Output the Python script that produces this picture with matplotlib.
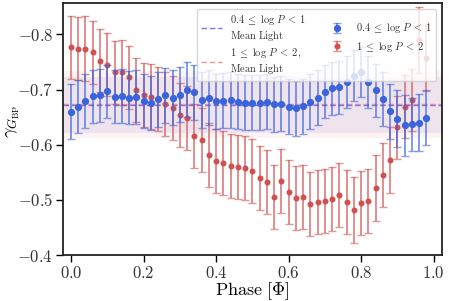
import matplotlib
matplotlib.use("Agg")
import matplotlib.pyplot as plt
from matplotlib.ticker import FuncFormatter, MultipleLocator
import numpy as np

plt.rcParams['mathtext.fontset'] = 'cm'
plt.rcParams['font.family'] = ['DejaVu Serif']

phase = [0.00, 0.02, 0.04, 0.06, 0.08, 0.10, 0.12, 0.14, 0.16, 0.18,
         0.20, 0.22, 0.24, 0.26, 0.28, 0.30, 0.32, 0.34, 0.36, 0.38,
         0.40, 0.42, 0.44, 0.46, 0.48, 0.50, 0.52, 0.54, 0.56, 0.58,
         0.60, 0.62, 0.64, 0.66, 0.68, 0.70, 0.72, 0.74, 0.76, 0.78,
         0.80, 0.82, 0.84, 0.86, 0.88, 0.90, 0.92, 0.94, 0.96, 0.98]

gamma_short = [-0.660, -0.669, -0.679, -0.688, -0.690, -0.697, -0.687, -0.689, -0.685, -0.687,
               -0.679, -0.675, -0.682, -0.690, -0.685, -0.691, -0.700, -0.695, -0.681, -0.685,
               -0.679, -0.680, -0.681, -0.678, -0.676, -0.676, -0.676, -0.678, -0.673, -0.674,
               -0.669, -0.666, -0.670, -0.678, -0.685, -0.696, -0.702, -0.704, -0.714, -0.725,
               -0.732, -0.714, -0.699, -0.683, -0.661, -0.647, -0.635, -0.637, -0.640, -0.649]
err_short = [0.050, 0.048, 0.049, 0.048, 0.048, 0.048, 0.048, 0.049, 0.048, 0.049,
             0.049, 0.049, 0.049, 0.050, 0.050, 0.050, 0.050, 0.050, 0.050, 0.050,
             0.050, 0.050, 0.050, 0.050, 0.050, 0.050, 0.050, 0.050, 0.050, 0.050,
             0.050, 0.050, 0.050, 0.050, 0.050, 0.048, 0.048, 0.048, 0.047, 0.046,
             0.046, 0.047, 0.048, 0.049, 0.050, 0.052, 0.056, 0.048, 0.052, 0.050]

gamma_long = [-0.777, -0.774, -0.774, -0.768, -0.752, -0.745, -0.731, -0.731, -0.722, -0.699,
              -0.690, -0.687, -0.683, -0.674, -0.666, -0.654, -0.648, -0.616, -0.608, -0.582,
              -0.571, -0.567, -0.562, -0.560, -0.557, -0.552, -0.539, -0.533, -0.506, -0.535,
              -0.514, -0.504, -0.506, -0.493, -0.496, -0.498, -0.502, -0.508, -0.496, -0.482,
              -0.495, -0.498, -0.522, -0.545, -0.573, -0.632, -0.669, -0.681, -0.790, -0.757]
err_long = [0.057, 0.057, 0.059, 0.057, 0.057, 0.057, 0.057, 0.059, 0.057, 0.058,
            0.058, 0.059, 0.058, 0.058, 0.058, 0.058, 0.058, 0.058, 0.058, 0.058,
            0.058, 0.058, 0.058, 0.058, 0.058, 0.058, 0.058, 0.058, 0.058, 0.058,
            0.058, 0.058, 0.058, 0.058, 0.058, 0.058, 0.058, 0.058, 0.058, 0.060,
            0.058, 0.058, 0.060, 0.058, 0.060, 0.057, 0.057, 0.057, 0.060, 0.060]

mean_short, std_short = -0.672, 0.050
mean_long, std_long = -0.673, 0.060

label_short = r'$0.4\;\leq\;\log\,P\;<\;1$'
label_long = r'$1\;\leq\;\log\,P\;<\;2$'
label_mean_short = r'$0.4\;\leq\;\log\,P\;<\;1$' + '\n' + r'$\mathrm{Mean\ Light}$'
label_mean_long = r'$1\;\leq\;\log\,P\;<\;2,$' + '\n' + r'$\mathrm{Mean\ Light}$'

blue = '#3a64dc'
red = '#d05050'

fig = plt.figure(figsize=(4.49, 3.01), dpi=100)
ax = fig.add_axes([63/449, 1-255/301, (442-63)/449, (255-3)/301])

ax.axhspan(mean_short - std_short, mean_short + std_short, color='#6a5acd', alpha=0.10, lw=0, zorder=0)
ax.axhspan(mean_long - std_long, mean_long + std_long, color='#f4a0a0', alpha=0.12, lw=0, zorder=0)
l1 = ax.axhline(mean_short, color='#5a5aff', ls='--', lw=1.0, alpha=0.85, dashes=(4, 2), zorder=1)
l2 = ax.axhline(mean_long, color='#e08888', ls='--', lw=1.0, alpha=0.85, dashes=(4, 2), zorder=1)

e1 = ax.errorbar(phase, gamma_short, yerr=err_short, fmt='o', color=blue, ms=4.2,
                 ecolor=blue, elinewidth=1.2, capsize=3, capthick=1.0, zorder=3)
for c in e1[1]:
    c.set_alpha(0.6)
for c in e1[2]:
    c.set_alpha(0.75)
e2 = ax.errorbar(phase, gamma_long, yerr=err_long, fmt='o', color=red, ms=3.3,
                 ecolor=red, elinewidth=1.2, capsize=3, capthick=1.0, zorder=2)
for c in e2[1]:
    c.set_alpha(0.6)
for c in e2[2]:
    c.set_alpha(0.75)

ax.set_xlim(-0.022, 1.023)
ax.set_ylim(-0.4, -0.857)
ax.xaxis.set_major_locator(MultipleLocator(0.2))
ax.yaxis.set_major_locator(MultipleLocator(0.1))
fmt = FuncFormatter(lambda v, p: r'$%.1f$' % v)
ax.xaxis.set_major_formatter(fmt)
ax.yaxis.set_major_formatter(fmt)
ax.tick_params(axis='both', direction='out', length=5, width=1.0, labelsize=12,
               top=False, right=False, colors='black', labelcolor='#333333')
ax.tick_params(axis='x', pad=2)
ax.tick_params(axis='y', pad=2)
for s in ax.spines.values():
    s.set_linewidth(1.3)
    s.set_color('#222222')

ax.set_xlabel(r'$\mathrm{Phase}\ [\Phi]$', fontsize=13)
ax.xaxis.set_label_coords(0.5, -0.10)
ax.set_ylabel(r'$\gamma_{G_{\rm BP}}$', fontsize=13)
ax.yaxis.set_label_coords(-0.108, 0.53)

leg = ax.legend([l1, l2, e1, e2], [label_mean_short, label_mean_long, label_short, label_long],
                ncol=2, loc='upper right', fontsize=7.5, framealpha=0.8,
                handlelength=2.0, columnspacing=1.9, borderaxespad=0.55, labelspacing=0.4)
for t in leg.get_texts():
    t.set_color('#333333')

fig.savefig('out.png', dpi=100)
